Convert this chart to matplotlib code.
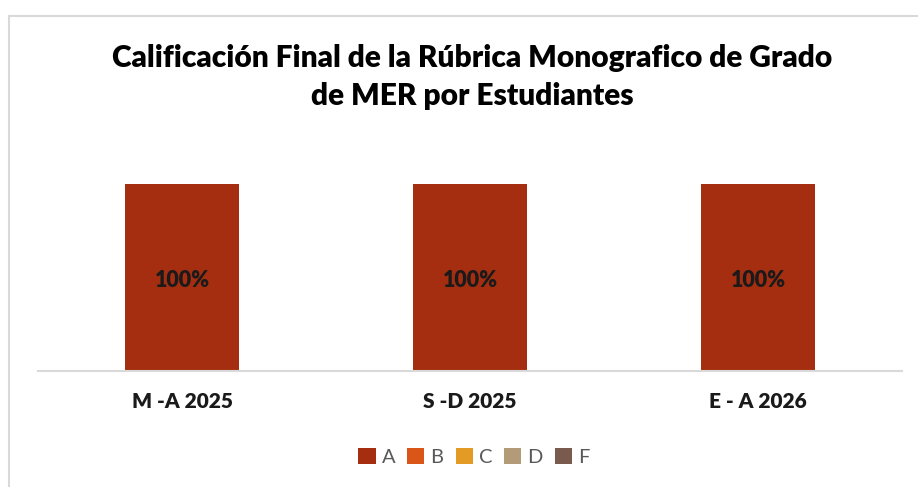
import numpy as np
import matplotlib.pyplot as plt
from matplotlib.patches import Rectangle

# data (share of students per grade)
categories = ["M -A 2025", "S -D 2025", "E - A 2026"]
grades = ["A", "B", "C", "D", "F"]
shares = {
    "A": [1.00, 1.00, 1.00],
    "B": [0.0, 0.0, 0.0],
    "C": [0.0, 0.0, 0.0],
    "D": [0.0, 0.0, 0.0],
    "F": [0.0, 0.0, 0.0],
}
colors = ["#a52e10", "#d95618", "#e39b26", "#b39b7a", "#7a5a4c"]

plt.rcParams["font.family"] = ["Lato", "DejaVu Sans"]

fig = plt.figure(figsize=(9.18, 4.87), dpi=100)
W, H = 918, 487
ax = fig.add_axes([38 / W, (H - 371) / H, (902 - 38) / W, (371 - 184) / H])

# chart-area border, cut off on the right and bottom like the screenshot
fig.patches.append(Rectangle((9 / W, -0.1), 1.2, (H - 16) / H + 0.1,
                             transform=fig.transFigure, fill=False,
                             edgecolor="#d9d9d9", linewidth=1.5))

x = np.arange(len(categories))
bottom = np.zeros(len(categories))
for g, c in zip(grades, colors):
    vals = np.array(shares[g])
    ax.bar(x, vals, bottom=bottom, width=0.396, color=c, label=g)
    for xi, b, v in zip(x, bottom, vals):
        if v > 0:
            ax.annotate(f"{v:.0%}", (xi, b + v / 2), xytext=(0, -2.5),
                        textcoords="offset points", ha="center", va="center",
                        fontsize=15.5, fontweight="heavy", color="#1a1a1a")
    bottom += vals

ax.set_xlim(-0.5, len(categories) - 0.5)
ax.set_ylim(0, 1)
ax.set_yticks([])
ax.set_xticks(x)
ax.set_xticklabels(categories, fontsize=15, fontweight="heavy", color="#1a1a1a")
ax.tick_params(axis="x", length=0, pad=15)
for s in ["top", "right", "left"]:
    ax.spines[s].set_visible(False)
ax.spines["bottom"].set_color("#d9d9d9")
ax.spines["bottom"].set_linewidth(1.5)

fig.text(472 / W, (H - 77) / H,
         "Calificación Final de la Rúbrica Monografico de Grado\nde MER por Estudiantes",
         ha="center", va="center", fontsize=21.5, fontweight="heavy",
         color="#000000", linespacing=1.45)

leg = fig.legend(loc="center", bbox_to_anchor=(474 / W, (H - 457) / H), ncol=5,
                 frameon=False, fontsize=14.5, handlelength=0.85, handleheight=0.85,
                 handletextpad=0.3, columnspacing=0.6)
for t in leg.get_texts():
    t.set_color("#595959")

fig.savefig("out.png", dpi=100)
